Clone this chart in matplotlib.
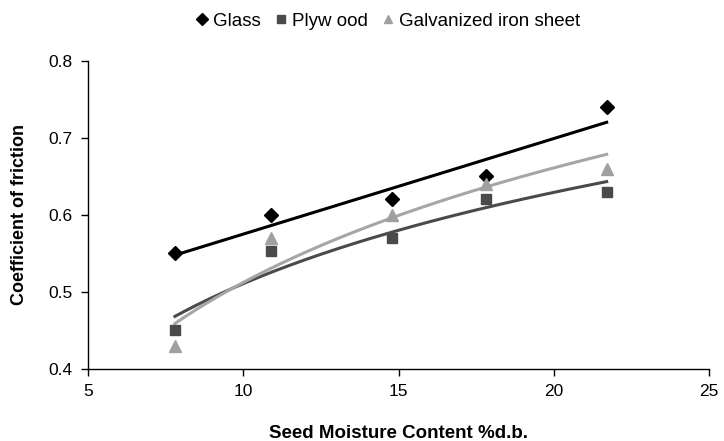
import numpy as np
import matplotlib
matplotlib.use('Agg')
import matplotlib.pyplot as plt

plt.rcParams['font.family'] = ['Liberation Sans', 'DejaVu Sans']

#=======Data
moisture = [7.8, 10.9, 14.8, 17.8, 21.7]
glass = [0.55, 0.60, 0.62, 0.65, 0.74]
plywood = [0.45, 0.553, 0.57, 0.62, 0.63]
galvanized = [0.43, 0.57, 0.60, 0.64, 0.66]

x = np.array(moisture)
xs = np.linspace(x.min(), x.max(), 200)

#=======Trendlines (linear for glass, logarithmic for the others)
g_fit = np.polyfit(x, glass, 1)
p_fit = np.polyfit(np.log(x), plywood, 1)
i_fit = np.polyfit(np.log(x), galvanized, 1)

fig = plt.figure(figsize=(7.24, 4.41), dpi=100)
ax = fig.add_axes([0.1215, 0.164, 0.858, 0.698])

ax.plot(xs, np.polyval(g_fit, xs), color='black', lw=2.2)
ax.plot(xs, np.polyval(p_fit, np.log(xs)), color='#4a4a4a', lw=2.2)
ax.plot(xs, np.polyval(i_fit, np.log(xs)), color='#a6a6a6', lw=2.2)

ax.plot(moisture, glass, 'D', color='black', ms=7.5, label='Glass', ls='none')
ax.plot(moisture, plywood, 's', color='#4a4a4a', ms=7, label='Plyw ood', ls='none')
ax.plot(moisture, galvanized, '^', color='#a0a0a0', ms=8.5, label='Galvanized iron sheet', ls='none')

ax.set_xlim(5, 25)
ax.set_ylim(0.4, 0.8)
ax.set_xticks([5, 10, 15, 20, 25])
ax.set_yticks([0.4, 0.5, 0.6, 0.7, 0.8])
ax.set_yticklabels(['0.4', '0.5', '0.6', '0.7', '0.8'])
ax.tick_params(direction='out', length=5, width=1, labelsize=12.5, pad=6)
for s in ['top', 'right']:
    ax.spines[s].set_visible(False)
for s in ['left', 'bottom']:
    ax.spines[s].set_linewidth(1)

ax.set_xlabel('Seed Moisture Content %d.b.', fontsize=13.5, fontweight='bold')
ax.set_ylabel('Coefficient of friction', fontsize=13, fontweight='bold')
ax.xaxis.set_label_coords(0.5, -0.182)
ax.yaxis.set_label_coords(-0.097, 0.5)

fig.legend(loc='center', bbox_to_anchor=(386 / 724, 1 - 21 / 441), ncol=3, frameon=False,
           fontsize=13.5, handletextpad=0.05, columnspacing=0.5, handlelength=1.1,
           markerscale=0.75)

plt.savefig('out.png', dpi=100)
